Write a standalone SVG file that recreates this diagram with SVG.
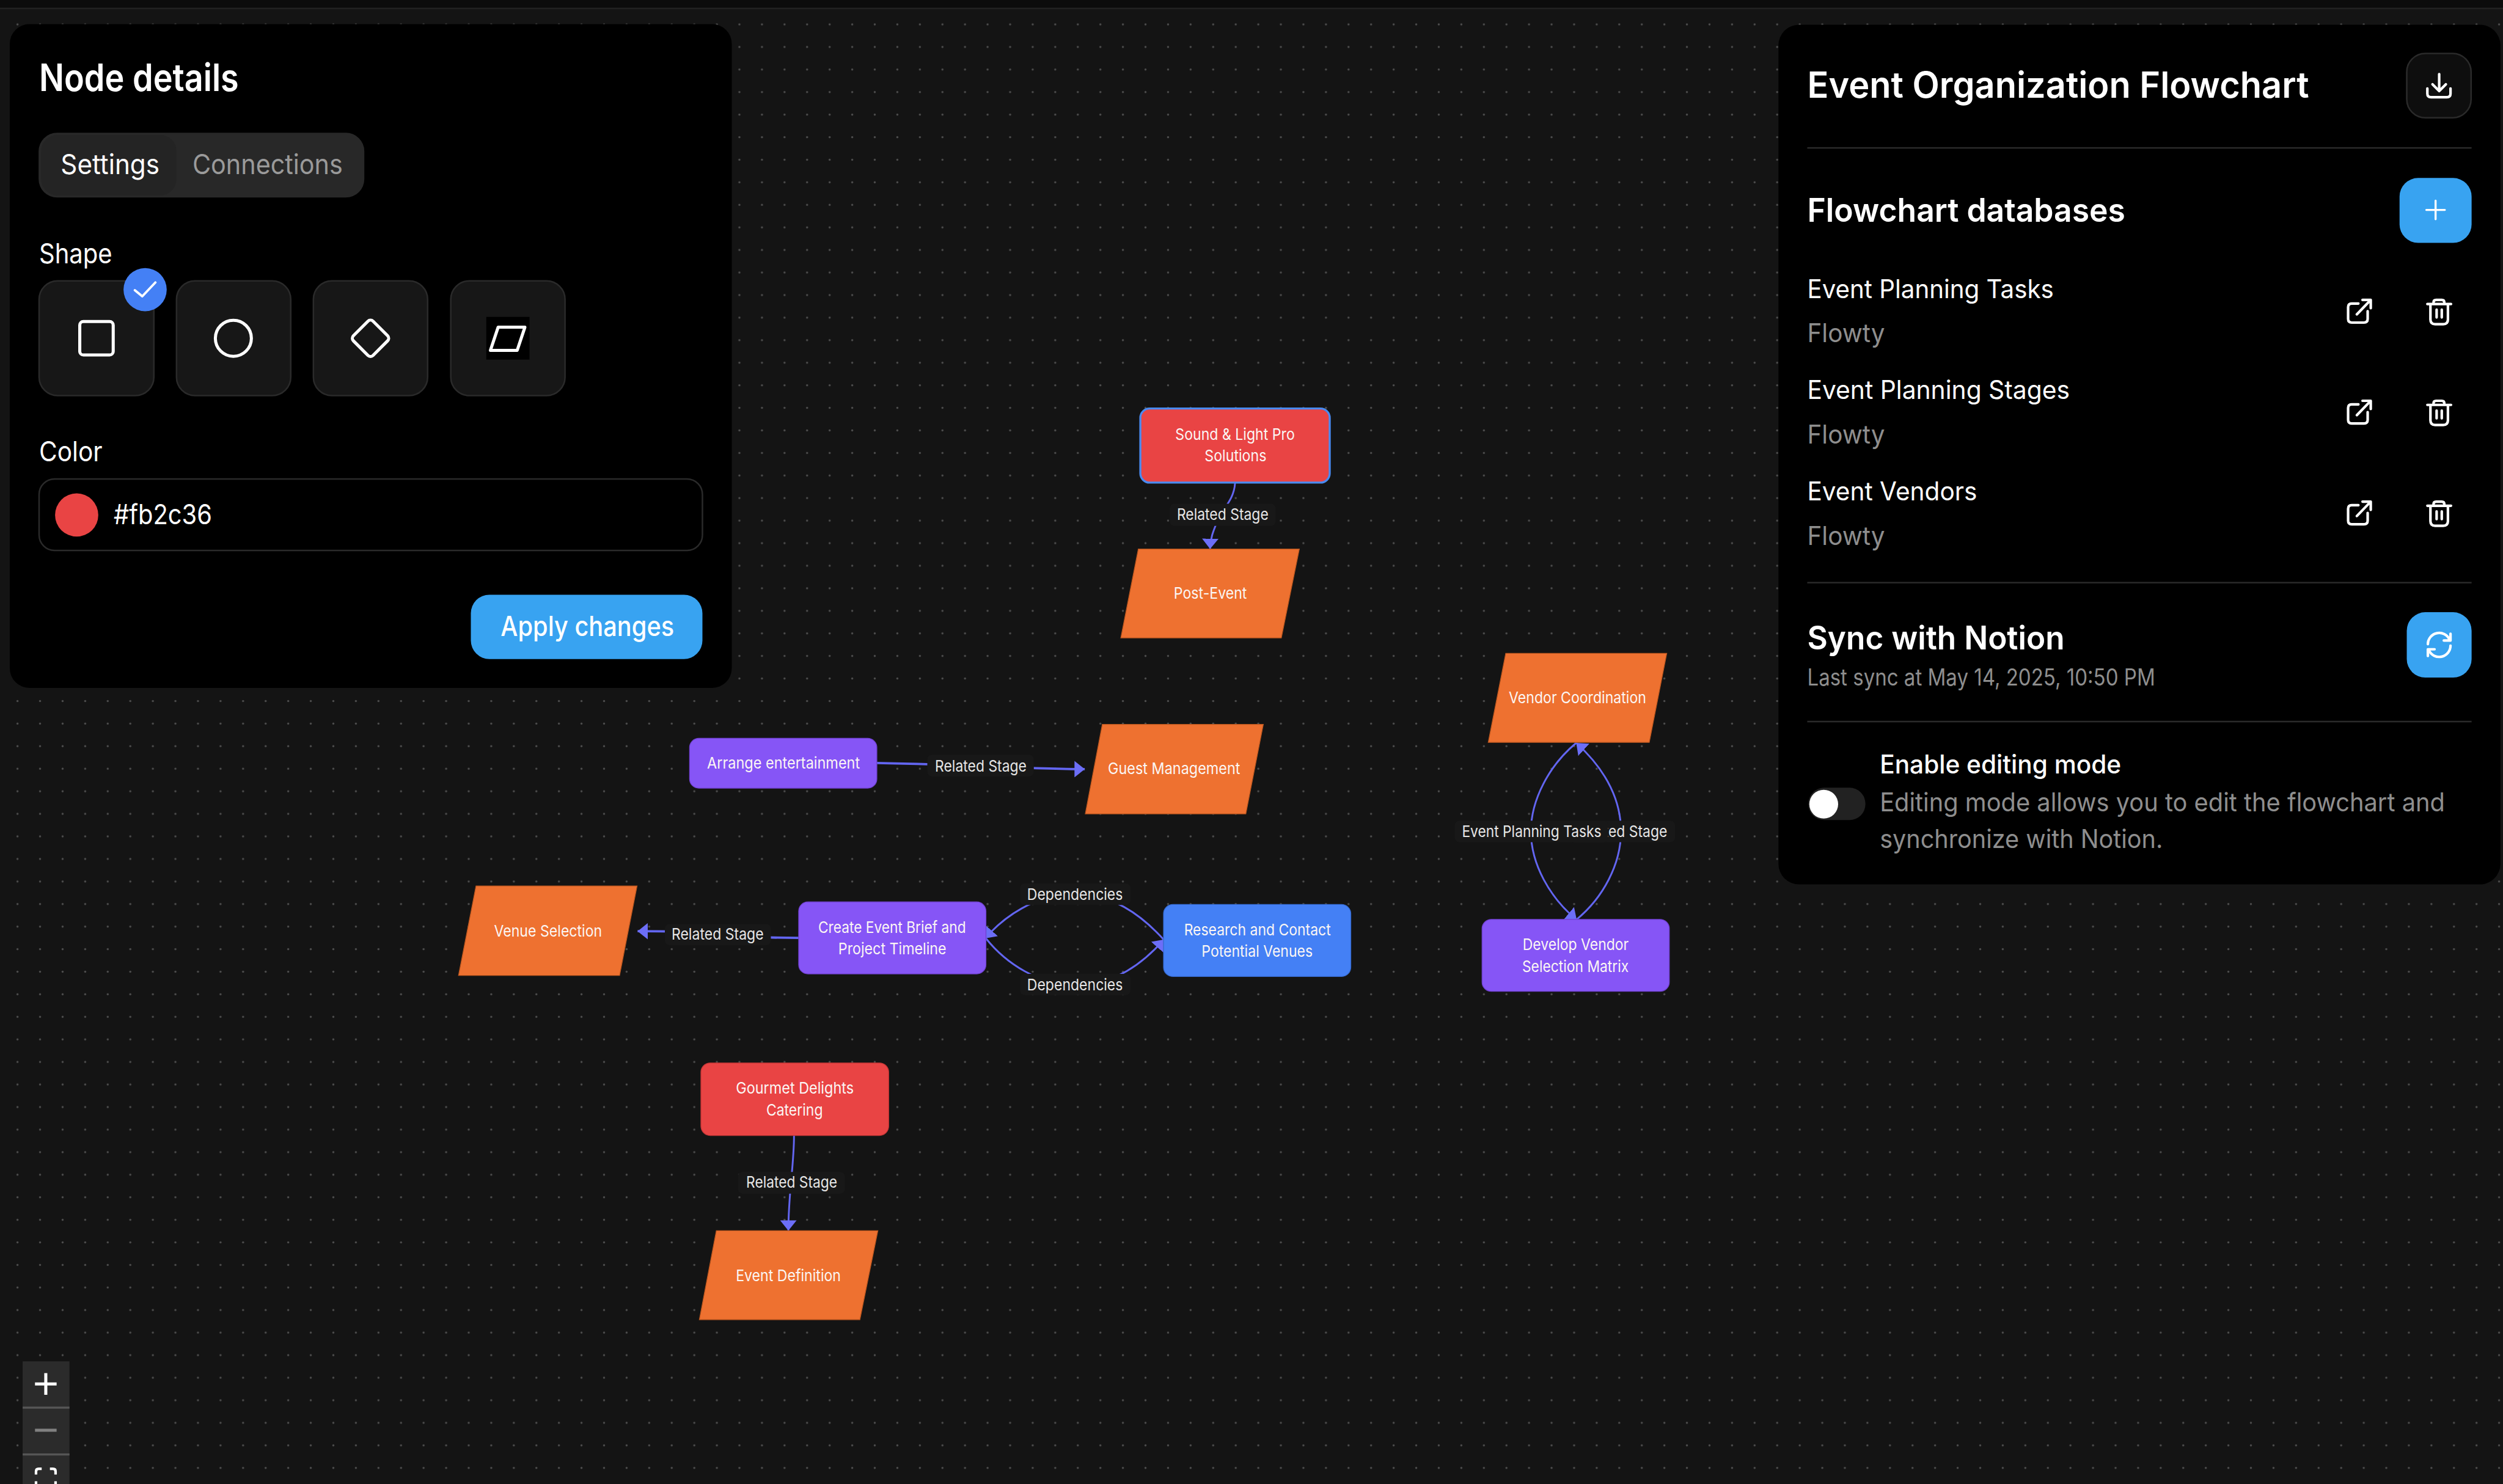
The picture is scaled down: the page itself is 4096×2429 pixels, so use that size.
<svg xmlns="http://www.w3.org/2000/svg" width="4096" height="2429" viewBox="0 0 4096 2429">
<style>
text{font-family:"Inter","Liberation Sans",sans-serif;fill:#fff}
.n{font-size:31px;font-weight:400;fill:#fbf6f4}
.l{font-size:31px;font-weight:400;fill:#e6e6e6}
.lb{fill:#181818}
.e{fill:none;stroke:#6366f1;stroke-width:3.5}
.h{fill:none;stroke:#6366f1;stroke-width:4.5}
.par{fill:#ee7130;stroke:#b9561f;stroke-width:1.5}
.pur{fill:#8655f6;stroke:#7040d0;stroke-width:1.5}
.red{fill:#e94444;stroke:#c23535;stroke-width:1.5}
.blu{fill:#4480f5;stroke:#3468cc;stroke-width:1.5}
.panel{fill:#000}
.ttl{font-size:70px;font-weight:600}
.h2{font-size:64px;font-weight:600}
.b{font-size:50px;font-weight:400}
.g{font-size:50px;font-weight:400;fill:#8e8e8e}
.ui{font-size:53px;font-weight:400}
.card{fill:#171717;stroke:#2a2a2a;stroke-width:3}
.ic{fill:none;stroke:#fff;stroke-width:6;stroke-linecap:round;stroke-linejoin:round}
.ic5{fill:none;stroke:#fff;stroke-width:5;stroke-linecap:round;stroke-linejoin:round}
.div{fill:#2a2a2a}
.btn{fill:#38a3f1}
</style>
<defs>
<pattern id="dots" patternUnits="userSpaceOnUse" x="12.08" y="-18.32" width="43.84" height="43.84"><circle cx="21.92" cy="21.92" r="2" fill="#4e4e4e"/></pattern>
<marker id="arr" viewBox="0 0 20 32" refX="20" refY="16" markerUnits="userSpaceOnUse" markerWidth="20" markerHeight="32" orient="auto"><path d="M0 0L20 16L0 32Z" fill="#6c6ef7"/></marker>
<g id="ext"><path class="ic5" d="M4583 590H4570q-7 0-7 7V620q0 7 7 7H4594q7 0 7-7V605"/><path class="ic5" d="M4580 611L4606 584M4591 583H4607V599"/></g>
<g id="trash"><path class="ic5" d="M4717 591H4763M4729 590V588q0-5 5-5H4745q5 0 5 5V590M4723 592V621q0 9 9 9H4748q9 0 9-9V592M4735 602V617M4745 602V617"/></g>
</defs>
<rect width="4096" height="2429" fill="#141414"/>
<g transform="scale(0.842105)">
<rect x="0" y="0" width="4864" height="2900" fill="url(#dots)"/>
<rect width="4864" height="15" fill="#0c0c0c"/><rect y="15" width="4864" height="3" fill="#222"/>

<g id="connectors">
<path class="e" marker-end="url(#arr)" d="M2400 939C2398 972 2376 988 2366 1012C2358 1032 2352 1045 2351.5 1067"/>
<path class="h" marker-end="url(#arr)" d="M1704 1483C1760 1484 1800 1485 1905 1489C2000 1493 2060 1495 2108 1495"/>
<path class="h" marker-end="url(#arr)" d="M1552 1823C1500 1823 1460 1822 1395 1816C1330 1810 1290 1810 1239 1810"/>
<path class="e" marker-end="url(#arr)" d="M2090 1738C2010 1738 1950 1783 1914 1824"/>
<path class="e" d="M2090 1738C2160 1738 2215 1775 2262 1827"/>
<path class="e" d="M1916 1824C1955 1873 2020 1915 2090 1915"/>
<path class="e" marker-end="url(#arr)" d="M2090 1915C2170 1915 2226 1867 2262 1826"/>
<path class="e" d="M3063 1444C3010 1488 2975 1555 2975 1616C2975 1680 3012 1745 3064 1788" marker-end="url(#arr)"/>
<path class="e" marker-end="url(#arr)" d="M3064 1787C3115 1745 3150 1680 3150 1616C3150 1560 3125 1500 3063 1444"/>
<path class="e" marker-end="url(#arr)" d="M1543 2207C1543 2265 1532 2320 1532 2392"/>
<g id="edge-labels">
<rect class="lb" x="2273" y="979" width="206" height="43" rx="9"/><text class="l" x="2287" y="1011" textLength="178" lengthAdjust="spacingAndGlyphs">Related Stage</text>
<rect class="lb" x="1802" y="1467" width="207" height="42" rx="9"/><text class="l" x="1817" y="1500" textLength="178" lengthAdjust="spacingAndGlyphs">Related Stage</text>
<rect class="lb" x="1292" y="1796" width="206" height="41" rx="9"/><text class="l" x="1305" y="1826" textLength="179" lengthAdjust="spacingAndGlyphs">Related Stage</text>
<rect class="lb" x="1982" y="1717" width="215" height="42" rx="9"/><text class="l" x="1996" y="1749" textLength="186" lengthAdjust="spacingAndGlyphs">Dependencies</text>
<rect class="lb" x="1982" y="1893" width="215" height="41" rx="9"/><text class="l" x="1996" y="1925" textLength="186" lengthAdjust="spacingAndGlyphs">Dependencies</text>
<rect class="lb" x="3050" y="1595" width="205" height="42" rx="9"/><text class="l" x="3062" y="1627" textLength="178" lengthAdjust="spacingAndGlyphs">Related Stage</text>
<rect class="lb" x="2827" y="1595" width="298" height="42" rx="9"/><text class="l" x="2841" y="1627" textLength="271" lengthAdjust="spacingAndGlyphs">Event Planning Tasks</text>
<rect class="lb" x="1434" y="2278" width="208" height="42" rx="9"/><text class="l" x="1450" y="2308" textLength="177" lengthAdjust="spacingAndGlyphs">Related Stage</text>
</g>
</g>

<g id="node-sound-light">
<rect class="red" x="2216" y="794" width="368" height="144" rx="18" style="stroke:#4a8af0;stroke-width:4"/>
<text class="n" x="2284" y="855" textLength="232" lengthAdjust="spacingAndGlyphs">Sound &amp; Light Pro</text>
<text class="n" x="2341" y="897" textLength="120" lengthAdjust="spacingAndGlyphs">Solutions</text>
</g>
<g id="node-post-event">
<polygon class="par" points="2212,1067 2525,1067 2490,1240 2178,1240"/>
<text class="n" x="2281" y="1164" textLength="142" lengthAdjust="spacingAndGlyphs">Post-Event</text>
</g>
<g id="node-arrange">
<rect class="pur" x="1340" y="1435" width="364" height="97" rx="18"/>
<text class="n" x="1374" y="1494" textLength="297" lengthAdjust="spacingAndGlyphs">Arrange entertainment</text>
</g>
<g id="node-guest">
<polygon class="par" points="2142,1408 2455,1408 2421,1582 2109,1582"/>
<text class="n" x="2153" y="1505" textLength="257" lengthAdjust="spacingAndGlyphs">Guest Management</text>
</g>
<g id="node-venue">
<polygon class="par" points="925,1722 1238,1722 1204,1896 891,1896"/>
<text class="n" x="960" y="1820" textLength="210" lengthAdjust="spacingAndGlyphs">Venue Selection</text>
</g>
<g id="node-create-brief">
<rect class="pur" x="1552" y="1753" width="364" height="140" rx="18"/>
<text class="n" x="1590" y="1813" textLength="287" lengthAdjust="spacingAndGlyphs">Create Event Brief and</text>
<text class="n" x="1629" y="1855" textLength="210" lengthAdjust="spacingAndGlyphs">Project Timeline</text>
</g>
<g id="node-research">
<rect class="blu" x="2261" y="1758" width="364" height="140" rx="18"/>
<text class="n" x="2301" y="1818" textLength="285" lengthAdjust="spacingAndGlyphs">Research and Contact</text>
<text class="n" x="2335" y="1860" textLength="216" lengthAdjust="spacingAndGlyphs">Potential Venues</text>
</g>
<g id="node-vendor-coordination">
<polygon class="par" points="2926,1270 3239,1270 3205,1443 2892,1443"/>
<text class="n" x="2932" y="1367" textLength="267" lengthAdjust="spacingAndGlyphs">Vendor Coordination</text>
</g>
<g id="node-vendor-matrix">
<rect class="pur" x="2880" y="1787" width="364" height="140" rx="18"/>
<text class="n" x="2959" y="1847" textLength="206" lengthAdjust="spacingAndGlyphs">Develop Vendor</text>
<text class="n" x="2958" y="1889" textLength="207" lengthAdjust="spacingAndGlyphs">Selection Matrix</text>
</g>
<g id="node-gourmet">
<rect class="red" x="1362" y="2066" width="365" height="141" rx="18"/>
<text class="n" x="1430" y="2126" textLength="229" lengthAdjust="spacingAndGlyphs">Gourmet Delights</text>
<text class="n" x="1489" y="2168" textLength="110" lengthAdjust="spacingAndGlyphs">Catering</text>
</g>
<g id="node-event-definition">
<polygon class="par" points="1392,2392 1706,2392 1671,2565 1359,2565"/>
<text class="n" x="1430" y="2490" textLength="204" lengthAdjust="spacingAndGlyphs">Event Definition</text>
</g>

<g id="panel-node-details">
<rect class="panel" x="19" y="47" width="1403" height="1290" rx="38"/>
<text x="76" y="177" font-size="73" font-weight="600" textLength="388" lengthAdjust="spacingAndGlyphs">Node details</text>
<rect x="75" y="258" width="633" height="126" rx="36" fill="#282828"/>
<rect x="80" y="262" width="263" height="118" rx="32" fill="#242424"/>
<text class="ui" x="118" y="339" textLength="192" lengthAdjust="spacingAndGlyphs">Settings</text>
<text class="ui" x="374" y="339" style="fill:#9a9a9a" textLength="292" lengthAdjust="spacingAndGlyphs">Connections</text>
<text class="ui" x="76" y="512" textLength="142" lengthAdjust="spacingAndGlyphs">Shape</text>
<rect class="card" x="76" y="546" width="223" height="223" rx="36"/>
<rect class="card" x="343" y="546" width="222" height="223" rx="36"/>
<rect class="card" x="609" y="546" width="222" height="223" rx="36"/>
<rect class="card" x="876" y="546" width="222" height="223" rx="36"/>
<rect class="ic" x="155" y="625" width="65" height="65" rx="7"/>
<circle class="ic" cx="453.5" cy="657.5" r="35"/>
<rect class="ic" x="693" y="630.5" width="54" height="54" rx="7" transform="rotate(45 720 657.5)"/>
<rect x="945" y="616" width="84" height="83" fill="#000"/>
<path class="ic" d="M968 636H1020L1005 681H953Z"/>
<circle cx="282" cy="563" r="42" fill="#4480f5"/>
<path d="M262 564L276.5 576L302 549" fill="none" stroke="#fff" stroke-width="4.5" stroke-linecap="round" stroke-linejoin="round"/>
<text class="ui" x="76" y="896" textLength="123" lengthAdjust="spacingAndGlyphs">Color</text>
<rect x="76" y="931" width="1289" height="139" rx="30" fill="#000" stroke="#2a2a2a" stroke-width="3"/>
<circle cx="149" cy="1001" r="42" fill="#e94444"/>
<text class="ui" x="221" y="1019" textLength="191" lengthAdjust="spacingAndGlyphs">#fb2c36</text>
<rect class="btn" x="915" y="1156" width="450" height="125" rx="36"/>
<text class="ui" x="973" y="1236" style="font-weight:500" textLength="337" lengthAdjust="spacingAndGlyphs">Apply changes</text>
</g>

<g id="panel-databases">
<rect class="panel" x="3456" y="48" width="1403" height="1671" rx="40"/>
<text class="ttl" x="3512" y="190" textLength="975" lengthAdjust="spacingAndGlyphs">Event Organization Flowchart</text>
<rect x="4677" y="104" width="125" height="125" rx="36" fill="#0e0e0e" stroke="#2a2a2a" stroke-width="3"/>
<path class="ic5" d="M4740 144V176M4727 164L4740 177L4753 164M4717 172V182q0 7 7 7H4755q7 0 7-7V172"/>
<rect class="div" x="3512" y="286" width="1291" height="3"/>
<text class="h2" x="3512" y="431" textLength="618" lengthAdjust="spacingAndGlyphs">Flowchart databases</text>
<rect class="btn" x="4663" y="346" width="140" height="126" rx="36"/>
<path class="ic" style="stroke-width:4" d="M4733 390V426M4715 408H4751"/>
<text class="b" x="3512" y="580" textLength="479" lengthAdjust="spacingAndGlyphs">Event Planning Tasks</text>
<text class="g" x="3512" y="665" textLength="151" lengthAdjust="spacingAndGlyphs">Flowty</text>
<use href="#ext"/><use href="#trash"/>
<text class="b" x="3512" y="776" textLength="510" lengthAdjust="spacingAndGlyphs">Event Planning Stages</text>
<text class="g" x="3512" y="862" textLength="151" lengthAdjust="spacingAndGlyphs">Flowty</text>
<use href="#ext" y="196"/><use href="#trash" y="196"/>
<text class="b" x="3512" y="973" textLength="330" lengthAdjust="spacingAndGlyphs">Event Vendors</text>
<text class="g" x="3512" y="1059" textLength="151" lengthAdjust="spacingAndGlyphs">Flowty</text>
<use href="#ext" y="392"/><use href="#trash" y="392"/>
<rect class="div" x="3512" y="1131" width="1291" height="3"/>
<text class="h2" x="3512" y="1262" textLength="500" lengthAdjust="spacingAndGlyphs">Sync with Notion</text>
<text class="g" x="3512" y="1332" style="font-size:45px" textLength="676" lengthAdjust="spacingAndGlyphs">Last sync at May 14, 2025, 10:50 PM</text>
<rect class="btn" x="4677" y="1190" width="126" height="127" rx="36"/>
<path class="ic5" d="M4718 1252A22 22 0 0 1 4760 1243M4762 1232V1245H4749M4762 1255A22 22 0 0 1 4720 1264M4718 1275V1262H4731"/>
<rect class="div" x="3512" y="1401" width="1291" height="3"/>
<text class="b" x="3653" y="1503" style="font-weight:500" textLength="469" lengthAdjust="spacingAndGlyphs">Enable editing mode</text>
<text class="g" x="3653" y="1577" textLength="1098" lengthAdjust="spacingAndGlyphs">Editing mode allows you to edit the flowchart and</text>
<text class="g" x="3653" y="1648" textLength="550" lengthAdjust="spacingAndGlyphs">synchronize with Notion.</text>
<rect x="3514" y="1531" width="111" height="63" rx="31" fill="#222"/>
<circle cx="3544" cy="1563" r="28" fill="#fff"/>
</g>

<g id="zoom-controls">
<rect x="44" y="2646" width="91" height="260" fill="#2b2b2b"/>
<rect x="44" y="2734" width="91" height="4" fill="#565656"/>
<rect x="44" y="2825" width="91" height="4" fill="#565656"/>
<path d="M89 2669V2711M68 2690H110" fill="none" stroke="#fff" stroke-width="6"/>
<path d="M68 2780H110" fill="none" stroke="#808080" stroke-width="6"/>
<path d="M70 2866V2860q0-5 5-5H81M97 2855H103q5 0 5 5V2866M70 2879V2900M108 2879V2900" fill="none" stroke="#fff" stroke-width="5"/>
</g>
</g>
</svg>
